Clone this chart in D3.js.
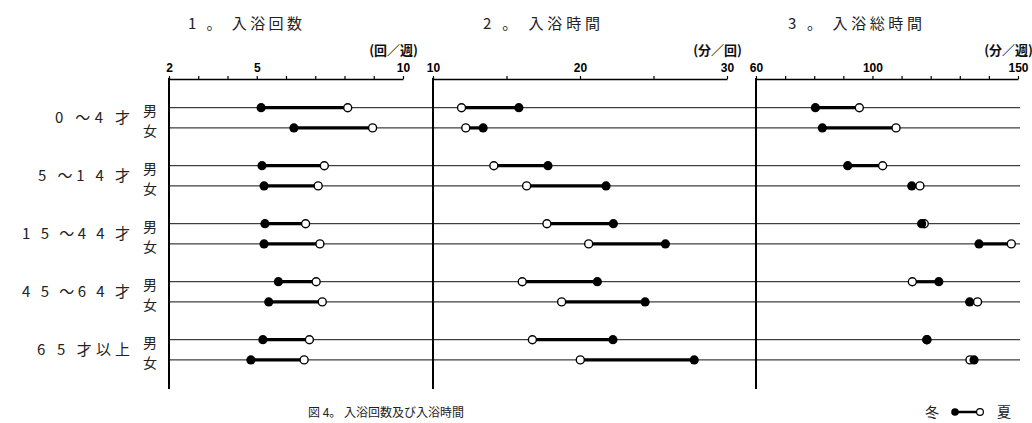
<!DOCTYPE html>
<html><head><meta charset="utf-8">
<script src="https://cdn.jsdelivr.net/npm/d3@7"></script>
<style>
body{margin:0;background:#fff;}
svg{display:block;}
.cjk{font-family:"Noto Sans CJK JP","Noto Sans",sans-serif;}
.num{font-family:"Liberation Sans","DejaVu Sans",sans-serif;font-weight:bold;}
</style>
</head><body>
<svg id="chart" width="1032" height="423"></svg>
<script>
// ---- data ----
const ages = ["0 〜4 才", "5 〜1 4 才", "1 5 〜4 4 才", "4 5 〜6 4 才", "6 5 才以上"];
const sexes = ["男", "女"];
const panelTitles = ["1 。 入浴回数", "2 。 入浴時間", "3 。 入浴総時間"];
const panelUnits = ["(回／週)", "(分／回)", "(分／週)"];
// winter (冬, filled) and summer (夏, open); order: age group x (男, 女)
const freqWinter  = [5.15, 6.27, 5.18, 5.25, 5.28, 5.25, 5.74, 5.41, 5.21, 4.80];
const freqSummer  = [8.11, 8.96, 7.31, 7.10, 6.67, 7.16, 7.03, 7.24, 6.80, 6.62];
const timeWinter  = [15.84, 13.41, 17.82, 21.77, 22.27, 25.81, 21.18, 24.43, 22.24, 27.77];
const timeSummer  = [11.94, 12.23, 14.14, 16.37, 17.75, 20.59, 16.07, 18.75, 16.76, 20.02];
const totalWinter = [80.4, 82.8, 91.5, 113.5, 116.9, 136.6, 122.8, 133.4, 118.7, 134.9];
const totalSummer = [95.5, 108.1, 103.5, 116.3, 117.8, 147.7, 113.7, 136.1, 118.7, 133.5];
const domains = [[2, 10], [10, 30], [60, 150]];
const tickVals = [[2,3,4,5,6,7,8,9,10], [10,15,20,25,30], [60,70,80,90,100,110,120,130,140,150]];
const tickLabels = [[2,5,10], [10,20,30], [60,100,150]];
const caption = "図 4。 入浴回数及び入浴時間";
const legendWinter = "冬", legendSummer = "夏";

// ---- layout ----
const svg = d3.select("#chart");
const ranges = [[169, 403], [433, 727], [756, 1018]];
const axisY = 79, axisBottom = 389;
const yGroup = d3.scalePoint().domain(ages).range([107.7, 339.7]);
const ySex = d3.scalePoint().domain(sexes).range([0, 20.2]);
const rows = [];
ages.forEach(a => sexes.forEach(s => rows.push({age: a, sex: s, y: yGroup(a) + ySex(s)})));

const panels = [
  {w: freqWinter, s: freqSummer},
  {w: timeWinter, s: timeSummer},
  {w: totalWinter, s: totalSummer}
];

// row lines across all panels
svg.append("g").selectAll("line").data(rows).join("line")
  .attr("x1", ranges[0][0]).attr("x2", 1020)
  .attr("y1", d => d.y).attr("y2", d => d.y)
  .attr("stroke", "#111").attr("stroke-width", 1);

// labels
const lab = svg.append("g").attr("class", "cjk").attr("fill", "#222");
const ageWidths = {"0 〜4 才": 75, "5 〜1 4 才": 92, "1 5 〜4 4 才": 108, "4 5 〜6 4 才": 108, "6 5 才以上": 93};
const ageRight = {"0 〜4 才": 130, "5 〜1 4 才": 130, "1 5 〜4 4 才": 130, "4 5 〜6 4 才": 130, "6 5 才以上": 130};
ages.forEach(a => {
  lab.append("text").attr("x", ageRight[a] - ageWidths[a]).attr("y", yGroup(a) + 15)
    .attr("font-size", 15).attr("textLength", ageWidths[a]).attr("lengthAdjust", "spacing").text(a);
});
rows.forEach(r => {
  lab.append("text").attr("x", 150).attr("y", r.y + 8.5).attr("text-anchor", "middle")
    .attr("font-size", 14).text(r.sex);
});

panels.forEach((p, i) => {
  const x = d3.scaleLinear().domain(domains[i]).range(ranges[i]);
  const g = svg.append("g");
  // vertical axis
  g.append("line").attr("x1", ranges[i][0]).attr("x2", ranges[i][0])
    .attr("y1", axisY - 1).attr("y2", axisBottom).attr("stroke", "#000").attr("stroke-width", 2);
  // top axis
  const ax = d3.axisTop(x).tickValues(tickVals[i]).tickSize(3).tickSizeOuter(0)
    .tickFormat(d => tickLabels[i].includes(d) ? d : "");
  const axg = g.append("g").attr("transform", `translate(0,${axisY})`).call(ax);
  axg.select(".domain").attr("stroke", "#000").attr("stroke-width", 1.6);
  axg.selectAll(".tick line").attr("stroke", "#000").attr("stroke-width", 1.2);
  axg.selectAll(".tick text").attr("class", "num").attr("font-size", 12).attr("fill", "#000")
    .attr("dy", 0).attr("y", -7);
  // title & unit
  g.append("text").attr("class", "cjk").attr("x", [188, 483, 788][i]).attr("y", 29)
    .attr("font-size", 15).attr("textLength", [114, 117, 134][i]).attr("lengthAdjust", "spacing")
    .attr("fill", "#222").text(panelTitles[i]);
  g.append("text").attr("class", "cjk").attr("x", ranges[i][1] + 15).attr("y", 55)
    .attr("text-anchor", "end").attr("font-size", 13).attr("font-weight", "bold")
    .attr("fill", "#111").text(panelUnits[i]);
  // dumbbells
  const dg = g.append("g");
  rows.forEach((r, k) => {
    dg.append("line").attr("x1", x(p.w[k])).attr("x2", x(p.s[k]))
      .attr("y1", r.y).attr("y2", r.y).attr("stroke", "#000").attr("stroke-width", 3.2);
  });
  rows.forEach((r, k) => {
    dg.append("circle").attr("cx", x(p.s[k])).attr("cy", r.y).attr("r", 4)
      .attr("fill", "#fff").attr("stroke", "#000").attr("stroke-width", 1.4);
    dg.append("circle").attr("cx", x(p.w[k])).attr("cy", r.y).attr("r", 4.6).attr("fill", "#000");
  });
});

// caption
svg.append("text").attr("class", "cjk").attr("x", 308).attr("y", 417).attr("font-size", 12)
  .attr("fill", "#222").text(caption);
// legend
const lg = svg.append("g").attr("class", "cjk");
lg.append("text").attr("x", 932).attr("y", 417).attr("text-anchor", "middle").attr("font-size", 14).attr("fill", "#222").text(legendWinter);
lg.append("line").attr("x1", 955).attr("x2", 980).attr("y1", 412).attr("y2", 412).attr("stroke", "#000").attr("stroke-width", 2.5);
lg.append("circle").attr("cx", 980).attr("cy", 412).attr("r", 3.4).attr("fill", "#fff").attr("stroke", "#000").attr("stroke-width", 1.2);
lg.append("circle").attr("cx", 955).attr("cy", 412).attr("r", 3.8).attr("fill", "#000");
lg.append("text").attr("x", 1004).attr("y", 417).attr("text-anchor", "middle").attr("font-size", 14).attr("fill", "#222").text(legendSummer);
</script>
</body></html>
